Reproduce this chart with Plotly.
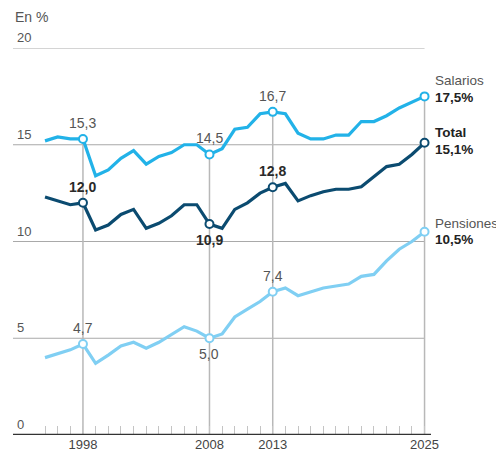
import plotly.graph_objects as go

years = list(range(1995, 2026))
salarios = [15.2, 15.4, 15.3, 15.3, 13.4, 13.7, 14.3, 14.7, 14.0, 14.4, 14.6, 15.0, 15.0, 14.5,
            14.8, 15.8, 15.9, 16.6, 16.7, 16.6, 15.6, 15.3, 15.3, 15.5, 15.5, 16.2, 16.2, 16.5,
            16.9, 17.2, 17.5]
total = [12.3, 12.1, 11.9, 12.0, 10.6, 10.85, 11.4, 11.66, 10.68, 10.94, 11.33, 11.9, 11.9, 10.9,
         10.68, 11.66, 12.0, 12.5, 12.8, 13.0, 12.1, 12.37, 12.57, 12.7, 12.7, 12.83, 13.35, 13.87,
         13.99, 14.5, 15.1]
pensiones = [4.0, 4.18, 4.4, 4.7, 3.7, 4.13, 4.6, 4.79, 4.48, 4.79, 5.2, 5.6, 5.37, 5.0,
             5.22, 6.1, 6.5, 6.9, 7.4, 7.6, 7.2, 7.4, 7.6, 7.7, 7.8, 8.2, 8.3, 9.0,
             9.6, 10.0, 10.5]
highlight_years = [1998, 2008, 2013, 2025]
x_labels = ["1998", "2008", "2013", "2025"]
y_ticks = [0, 5, 10, 15, 20]

C_SAL = "#22b2e8"
C_TOT = "#0b4b70"
C_PEN = "#80cff3"
GRID = "#a9a9a9"
FONT = "Liberation Sans"

X0, X1 = 1992.47, 2025.51

fig = go.Figure()

shapes = []
for v in y_ticks[1:]:
    shapes.append(dict(type="line", xref="x", yref="y", x0=X0, x1=2025, y0=v, y1=v,
                       line=dict(color=GRID, width=1), layer="below"))
for yr in highlight_years:
    top = salarios[years.index(yr)]
    shapes.append(dict(type="line", xref="x", yref="y", x0=yr, x1=yr, y0=0, y1=top,
                       line=dict(color="#b8b8b8", width=1.5), layer="below"))
shapes.append(dict(type="line", xref="x", yref="y", x0=X0, x1=X1, y0=0, y1=0,
                   line=dict(color="#333333", width=2.5)))

for ys, col in [(salarios, C_SAL), (total, C_TOT), (pensiones, C_PEN)]:
    fig.add_trace(go.Scatter(x=years, y=ys, mode="lines", line=dict(color=col, width=3.2),
                             hoverinfo="skip", showlegend=False, cliponaxis=False))
    hy = [ys[years.index(y)] for y in highlight_years]
    fig.add_trace(go.Scatter(x=highlight_years, y=hy, mode="markers",
                             marker=dict(size=8, color="white", line=dict(color=col, width=2)),
                             hoverinfo="skip", showlegend=False, cliponaxis=False))

ann = []
def val_label(yr, series, txt, above, bold, color):
    v = series[years.index(yr)]
    ann.append(dict(x=yr, y=v, xref="x", yref="y", text=("<b>%s</b>" % txt) if bold else txt,
                    showarrow=False, yanchor="bottom" if above else "top",
                    yshift=6 if above else -6, font=dict(size=14, color=color, family=FONT)))

val_label(1998, salarios, "15,3", True, False, "#555555")
val_label(2008, salarios, "14,5", True, False, "#555555")
val_label(2013, salarios, "16,7", True, False, "#555555")
val_label(1998, total, "12,0", True, True, "#2a2a2a")
val_label(2008, total, "10,9", False, True, "#2a2a2a")
val_label(2013, total, "12,8", True, True, "#2a2a2a")
val_label(1998, pensiones, "4,7", True, False, "#555555")
val_label(2008, pensiones, "5,0", False, False, "#555555")
val_label(2013, pensiones, "7,4", True, False, "#555555")

def right_label(series, name, bold_name, s_name, s_pct):
    v = series[-1]
    nm = "<b>%s</b>" % name if bold_name else name
    pct = ("%.1f" % v).replace(".", ",") + "%"
    ann.append(dict(x=2025, y=v, xref="x", yref="y", xanchor="left", yanchor="middle",
                    xshift=8, yshift=s_name, text=nm, showarrow=False, align="left",
                    font=dict(size=13.5, color="#555555" if not bold_name else "#222222", family=FONT)))
    ann.append(dict(x=2025, y=v, xref="x", yref="y", xanchor="left", yanchor="middle",
                    xshift=8, yshift=s_pct, text="<b>%s</b>" % pct, showarrow=False, align="left",
                    font=dict(size=13.5, color="#222222", family=FONT)))

right_label(salarios, "Salarios", False, 16, -1)
right_label(total, "Total", True, 10, -7)
right_label(pensiones, "Pensiones", False, 8, -8)

for v in y_ticks:
    ann.append(dict(x=0, xref="paper", y=v, yref="y", xanchor="left", yanchor="bottom",
                    xshift=2, yshift=1, text=str(v), showarrow=False,
                    font=dict(size=13, color="#555555", family=FONT)))

ann.append(dict(x=0, xref="paper", y=1, yref="paper", xanchor="left", yanchor="bottom",
                yshift=21, text="En %", showarrow=False,
                font=dict(size=14, color="#555555", family=FONT)))

tickvals = years
ticktext = [str(y) if y in highlight_years else "" for y in years]

# page body has an 8px margin, so the figure is sized to fill the remaining window
fig.update_layout(
    width=496, height=451,
    margin=dict(l=5, r=73, t=40, b=24),
    paper_bgcolor="white", plot_bgcolor="white",
    shapes=shapes, annotations=ann,
    xaxis=dict(range=[X0, X1], showgrid=False, zeroline=False, showline=False,
               tickmode="array", tickvals=tickvals, ticktext=ticktext,
               ticks="inside", ticklen=9, tickcolor="#c4c4c4", tickwidth=1,
               tickfont=dict(size=13, color="#444444", family=FONT), fixedrange=True),
    yaxis=dict(range=[0, 20], showgrid=False, zeroline=False, showline=False,
               showticklabels=False, fixedrange=True),
    font=dict(family=FONT),
)

fig.write_html("out.html")
